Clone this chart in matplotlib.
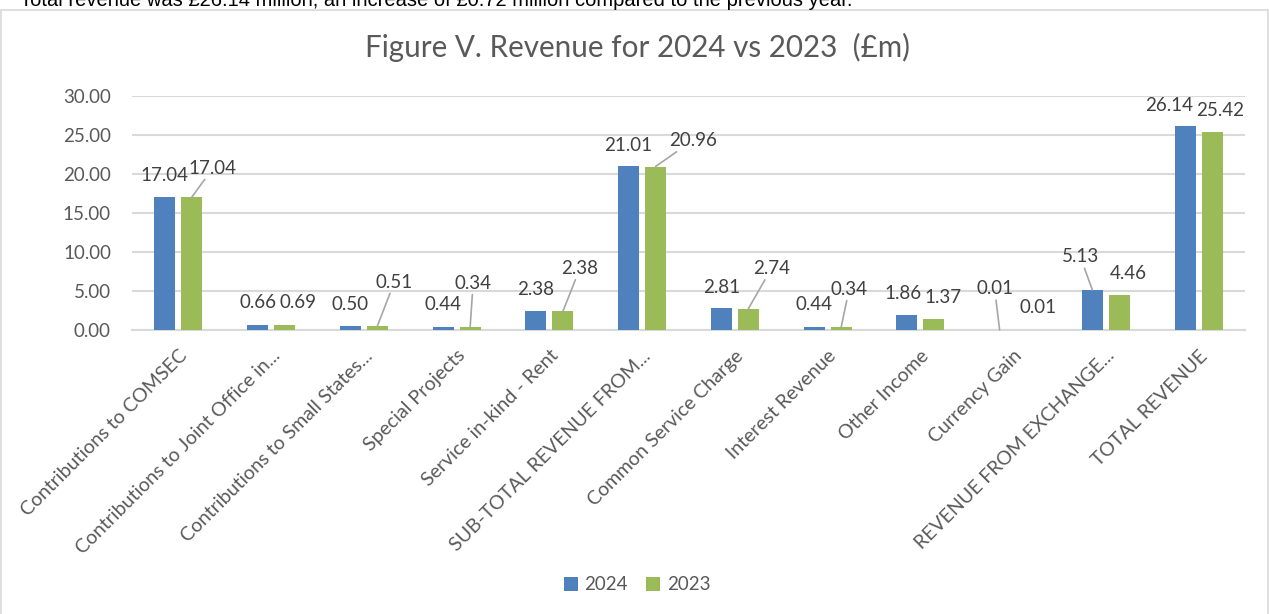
import numpy as np
import matplotlib
matplotlib.use("Agg")
import matplotlib.pyplot as plt
from matplotlib.patches import Rectangle

categories = [
    "Contributions to COMSEC",
    "Contributions to Joint Office in...",
    "Contributions to Small States...",
    "Special Projects",
    "Service in-kind - Rent",
    "SUB-TOTAL REVENUE FROM...",
    "Common Service Charge",
    "Interest Revenue",
    "Other Income",
    "Currency Gain",
    "REVENUE FROM EXCHANGE...",
    "TOTAL REVENUE",
]
rev_2024 = [17.04, 0.66, 0.50, 0.44, 2.38, 21.01, 2.81, 0.44, 1.86, 0.01, 5.13, 26.14]
rev_2023 = [17.04, 0.69, 0.51, 0.34, 2.38, 20.96, 2.74, 0.34, 1.37, 0.01, 4.46, 25.42]

# label offsets from bar top (pixels), and whether Excel drew a leader line
off_2024 = [(0, 22), (0, 22), (0, 22), (0, 22), (0, 22), (0, 21),
            (0, 21), (0, 22), (-4, 22), (-5, 41), (-12, 33), (-16, 21)]
lead_2024 = [False] * 9 + [True, True, False]
off_2023 = [(21, 29), (13, 22), (17, 44), (3, 44), (17, 43), (37, 26),
            (23, 40), (8, 38), (9, 22), (11, 22), (9, 22), (8, 21)]
lead_2023 = [True, False, True, True, True, True, True, True, False, False, False, False]

BLUE = "#4F81BD"
GREEN = "#9BBB59"
GRID = "#D9D9D9"
TXT = "#595959"
LBL = "#404040"
FONT = ["Lato", "DejaVu Sans"]

plt.rcParams["font.family"] = FONT

W, H = 1269, 614
fig = plt.figure(figsize=(W / 100, H / 100), dpi=100)
ax = fig.add_axes([132 / W, 1 - 330 / H, (1245 - 132) / W, (330 - 96) / H])

x = np.arange(len(categories))
bw = 0.226
shift = 0.1455
b1 = ax.bar(x - shift, rev_2024, bw, color=BLUE, label="2024", zorder=3)
b2 = ax.bar(x + shift, rev_2023, bw, color=GREEN, label="2023", zorder=3)

ax.set_xlim(-0.5, len(categories) - 0.5)
ax.set_ylim(0, 30)
ax.set_yticks(np.arange(0, 31, 5))
ax.set_yticklabels([f"{v:.2f}" for v in np.arange(0, 31, 5)])
ax.yaxis.grid(True, color=GRID, lw=1.5, zorder=0)
ax.set_axisbelow(True)
for s in ["top", "right", "left"]:
    ax.spines[s].set_visible(False)
ax.spines["bottom"].set_color(GRID)
ax.spines["bottom"].set_linewidth(1.5)
ax.tick_params(axis="y", length=0, pad=21 * 0.72, labelsize=13.5, labelcolor=TXT)
ax.tick_params(axis="x", length=0, pad=17 * 0.72, labelsize=14, labelcolor=TXT)
ax.set_xticks(x)
ax.set_xticklabels(categories, rotation=45, ha="right", rotation_mode="anchor")

def put_labels(xs, vals, offs, leads):
    for xi, v, (dx, dy), ld in zip(xs, vals, offs, leads):
        ap = dict(arrowstyle="-", color="#A6A6A6", lw=1.2, shrinkA=0, shrinkB=0) if ld else None
        ax.annotate(f"{v:.2f}", xy=(xi, v), xytext=(dx * 0.72, dy * 0.72),
                    textcoords="offset points", ha="center", va="center",
                    fontsize=13.5, color=LBL, arrowprops=ap, zorder=4)

put_labels(x - shift, rev_2024, off_2024, lead_2024)
put_labels(x + shift, rev_2023, off_2023, lead_2023)

fig.text(0.502, 1 - 47 / H, "Figure V. Revenue for 2024 vs 2023  (£m)",
         ha="center", va="center", fontsize=21.3, color=TXT)

fig.legend(handles=[b1, b2], loc="center", bbox_to_anchor=(0.502, 1 - 585 / H),
           ncol=2, frameon=False, fontsize=13.5, labelcolor=TXT,
           handlelength=0.75, handleheight=0.75, handletextpad=0.35, columnspacing=1.0)

# chart frame and clipped text line above it
fig.patches.append(Rectangle((1 / W, -0.05), (W - 2) / W, 1.05 - 10 / H,
                             transform=fig.transFigure, fill=False,
                             edgecolor="#D9D9D9", lw=1.2))
fig.text(20 / W, 1 - 6 / H,
         "Total revenue was £26.14 million, an increase of £0.72 million compared to the previous year.",
         ha="left", va="baseline", fontsize=14.5, color="black",
         family=["Liberation Sans", "DejaVu Sans"])

fig.savefig("out.png", dpi=100)
